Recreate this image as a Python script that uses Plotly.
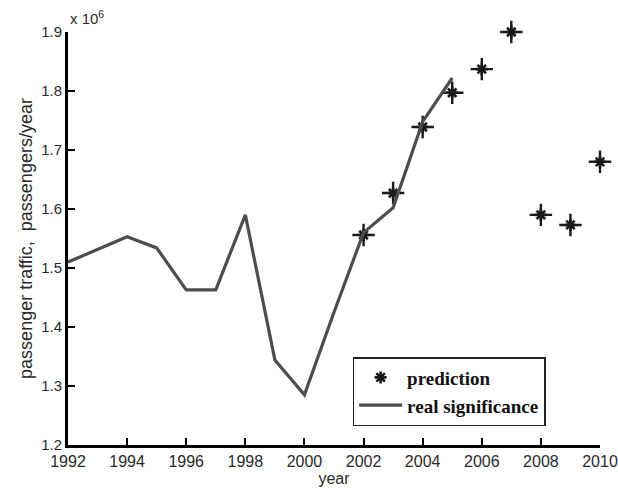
import plotly.graph_objects as go

real_years = [1992, 1993, 1994, 1995, 1996, 1997, 1998, 1999, 2000, 2001, 2002, 2003, 2004, 2005]
real_values = [1.510e6, 1.532e6, 1.553e6, 1.534e6, 1.463e6, 1.463e6, 1.590e6, 1.344e6, 1.285e6,
               1.425e6, 1.560e6, 1.602e6, 1.748e6, 1.822e6]
pred_years = [2002, 2003, 2004, 2005, 2006, 2007, 2008, 2009, 2010]
pred_values = [1.556e6, 1.627e6, 1.739e6, 1.797e6, 1.837e6, 1.900e6, 1.590e6, 1.573e6, 1.680e6]

x_ticks = list(range(1992, 2011, 2))
y_ticks = [1.2e6, 1.3e6, 1.4e6, 1.5e6, 1.6e6, 1.7e6, 1.8e6, 1.9e6]
y_tick_labels = ["1.2", "1.3", "1.4", "1.5", "1.6", "1.7", "1.8", "1.9"]

fig = go.Figure()
fig.add_trace(go.Scatter(
    x=pred_years, y=pred_values, mode="markers", name="<b>prediction</b>",
    marker=dict(symbol="asterisk-open", size=10, color="#1a1a1a",
                line=dict(width=2.6, color="#1a1a1a")),
    cliponaxis=False,
))
fig.add_trace(go.Scatter(
    x=pred_years, y=pred_values, mode="markers", showlegend=False,
    marker=dict(symbol="cross-thin-open", size=16, color="#1a1a1a",
                line=dict(width=2.4, color="#1a1a1a")),
    cliponaxis=False, hoverinfo="skip",
))
fig.add_trace(go.Scatter(
    x=real_years, y=real_values, mode="lines", name="<b>real significance</b>",
    line=dict(color="#4d4d4d", width=3.2),
))

tick_font = dict(family="Liberation Sans, Arial, sans-serif", size=15, color="#2a2a2a")
xtick_font = dict(tick_font, size=16)
title_font = dict(family="Liberation Sans, Arial, sans-serif", size=16, color="#2a2a2a")
fig.update_layout(
    width=618, height=490,
    margin=dict(l=68, r=18, t=32, b=45),
    plot_bgcolor="white", paper_bgcolor="white",
    showlegend=True,
    legend=dict(
        x=0.535, y=0.213, xanchor="left", yanchor="top",
        bordercolor="#222222", borderwidth=1.5, bgcolor="white",
        font=dict(family="Liberation Serif, Times New Roman, serif", size=19, color="#111111"),
        tracegroupgap=0, itemwidth=43,
    ),
    xaxis=dict(
        range=[1992, 2010], tickvals=x_ticks, ticks="inside", ticklen=7, tickwidth=2,
        tickcolor="black", showline=True, linecolor="black", linewidth=3, showgrid=False,
        zeroline=False, tickfont=xtick_font, automargin=False,
        title=dict(text="year", font=title_font, standoff=2),
    ),
    yaxis=dict(
        range=[1.2e6, 1.9e6], tickvals=y_ticks, ticktext=y_tick_labels, ticks="inside",
        ticklen=7, tickwidth=2, tickcolor="black", showline=True, linecolor="black",
        linewidth=3, showgrid=False, zeroline=False, tickfont=tick_font, automargin=False,
        title=dict(text="passenger traffic,  passengers/year", font=dict(title_font, size=18),
                   standoff=4),
    ),
    annotations=[dict(
        text="x 10<sup>6</sup>", xref="paper", yref="paper", x=0, y=1, xanchor="left",
        yanchor="bottom", yshift=3, showarrow=False, font=tick_font,
    )],
)

fig.write_html("out.html")
